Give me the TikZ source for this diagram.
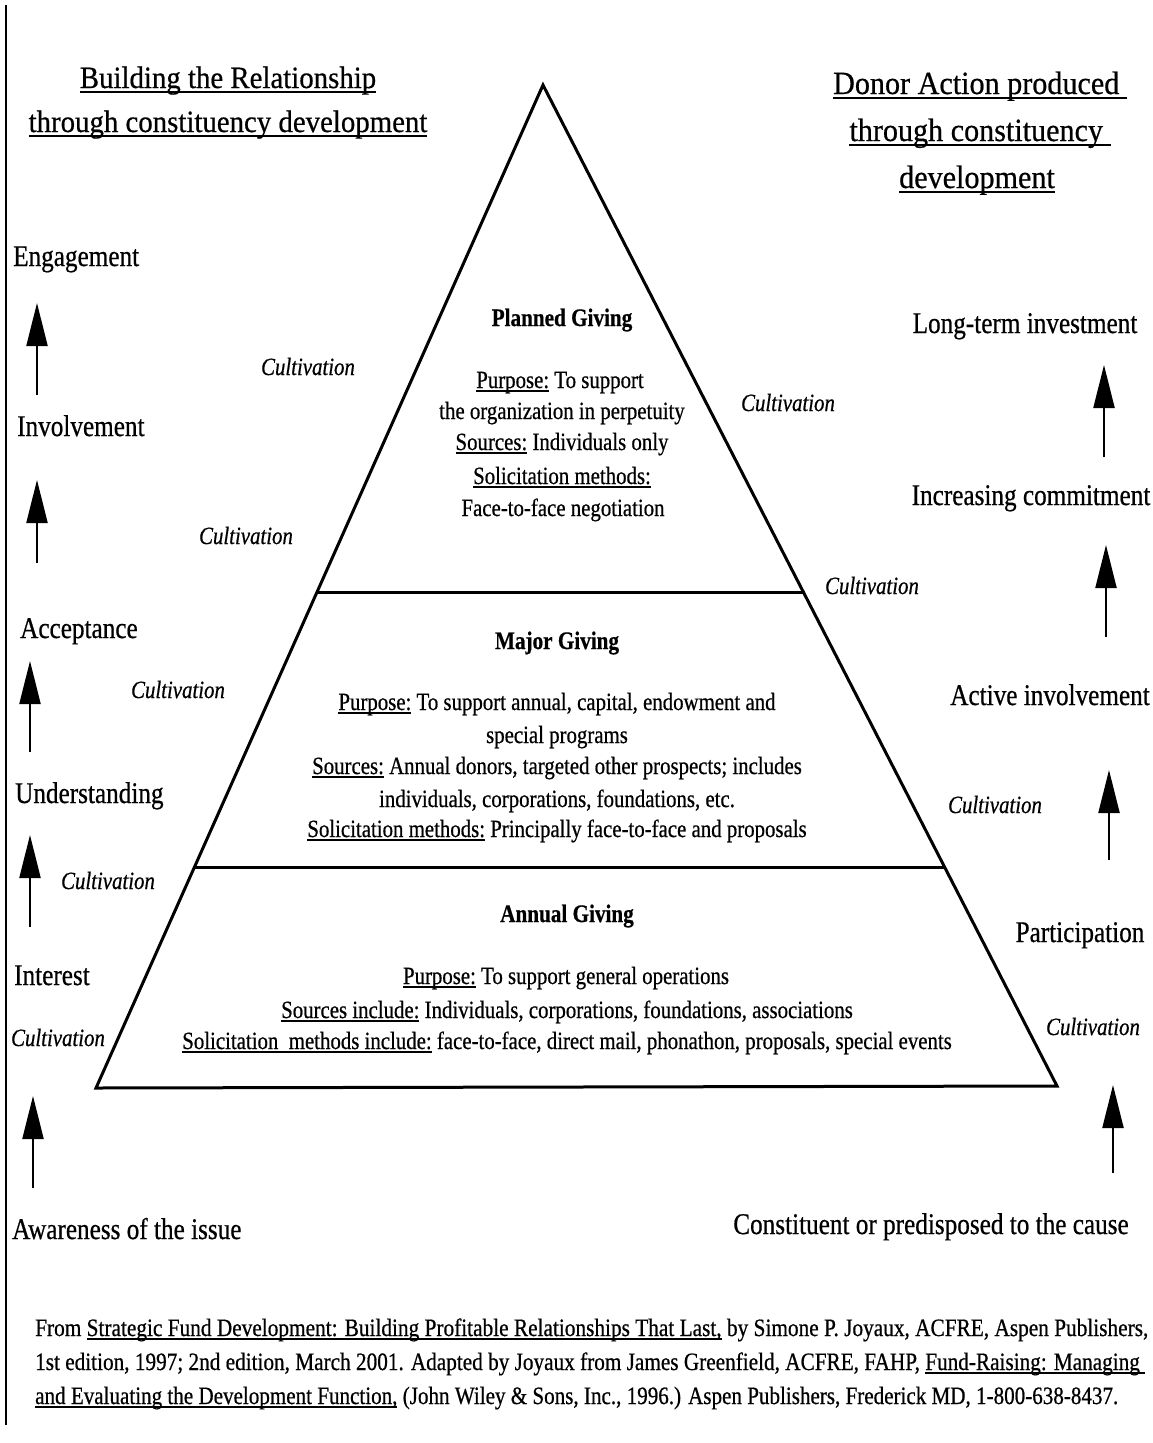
\documentclass[tikz,border=0pt]{standalone}
\usepackage{fontspec}
\usepackage{graphicx}
\setmainfont{Liberation Serif}[FakeStretch=0.84,FakeBold=0.6]
\newfontfamily\titlefont{Liberation Serif}[FakeStretch=0.93,FakeBold=0.6]
\usetikzlibrary{arrows.meta}
\newcommand\myul[1]{\setbox0=\hbox{#1}\rlap{\rule[-0.16em]{\wd0}{0.07em}}\box0\relax}
\tikzset{
  side/.style={font=\fontsize{30}{34}\selectfont, inner sep=0pt, anchor=base west},
  sidec/.style={font=\fontsize{30}{34}\selectfont, inner sep=0pt, anchor=base},
  cult/.style={font=\fontsize{24.8}{29}\selectfont\itshape, inner sep=0pt, anchor=base},
  body/.style={font=\fontsize{24.8}{29}\selectfont, inner sep=0pt, anchor=base},
  head/.style={font=\fontsize{25.2}{29}\selectfont\bfseries, inner sep=0pt, anchor=base},
  ltitle/.style={font=\titlefont\fontsize{31}{36}\selectfont, inner sep=0pt, anchor=base},
  rtitle/.style={font=\titlefont\fontsize{32.4}{38}\selectfont, inner sep=0pt, anchor=base},
  foot/.style={font=\fontsize{25}{29}\selectfont, inner sep=0pt, anchor=base west},
  pyr/.style={line width=3pt, line join=miter},
  uparrow/.style={line width=2.2pt, -{Triangle[length=43pt,width=21pt]}},
  border/.style={line width=2pt}
}
\begin{document}
\begin{tikzpicture}[x=1pt,y=-1pt]
\useasboundingbox (0,0) rectangle (1153,1443);
\fill[white] (0,0) rectangle (1153,1443);

% left border line
\coordinate (bt) at (6,5);
\coordinate (bb) at (6,1425);
\draw[border] (bt) -- (bb);

% pyramid
\coordinate (apex) at (543,85);
\coordinate (bl) at (96,1088);
\coordinate (br) at (1057,1086);
\coordinate (d1l) at (317,592);
\coordinate (d1r) at (805,592);
\coordinate (d2l) at (195,867);
\coordinate (d2r) at (946,867);
\draw[pyr] (apex) -- (bl) -- (br) -- cycle;
\draw[pyr] (d1l) -- (d1r);
\draw[pyr] (d2l) -- (d2r);

% titles
\node[ltitle] (lt1) at (228,88) {\myul{Building the Relationship}};
\node[ltitle] (lt2) at (228,132) {\myul{through constituency development}};
\node[rtitle] (rt1) at (980,94) {\myul{Donor Action produced\ }};
\node[rtitle] (rt2) at (980,141) {\myul{through constituency\ }};
\node[rtitle] (rt3) at (977,188) {\myul{development}};

% left side labels
\node[side] (engage) at (13,266) {Engagement};
\node[side] (involve) at (17,436) {Involvement};
\node[side] (accept) at (20,638) {Acceptance};
\node[side] (underst) at (15,803) {Understanding};
\node[side] (interest) at (14,985) {Interest};
\node[side] (aware) at (12,1239) {Awareness of the issue};

% left arrows
\coordinate (la1s) at (37,395); \coordinate (la1e) at (37,303);
\coordinate (la2s) at (37,563); \coordinate (la2e) at (37,480);
\coordinate (la3s) at (30,752); \coordinate (la3e) at (30,661);
\coordinate (la4s) at (30,927); \coordinate (la4e) at (30,835);
\coordinate (la5s) at (33,1188); \coordinate (la5e) at (33,1096);
\draw[uparrow] (la1s) -- (la1e);
\draw[uparrow] (la2s) -- (la2e);
\draw[uparrow] (la3s) -- (la3e);
\draw[uparrow] (la4s) -- (la4e);
\draw[uparrow] (la5s) -- (la5e);

% right side labels
\node[sidec] (longterm) at (1025,333) {Long-term investment};
\node[sidec] (increasing) at (1031,505) {Increasing commitment};
\node[sidec] (active) at (1050,705) {Active involvement};
\node[sidec] (particip) at (1080,942) {Participation};
\node[sidec] (constit) at (931,1234) {Constituent or predisposed to the cause};

% right arrows
\coordinate (ra1s) at (1104,457); \coordinate (ra1e) at (1104,365);
\coordinate (ra2s) at (1106,637); \coordinate (ra2e) at (1106,545);
\coordinate (ra3s) at (1109,860); \coordinate (ra3e) at (1109,770);
\coordinate (ra4s) at (1113,1173); \coordinate (ra4e) at (1113,1085);
\draw[uparrow] (ra1s) -- (ra1e);
\draw[uparrow] (ra2s) -- (ra2e);
\draw[uparrow] (ra3s) -- (ra3e);
\draw[uparrow] (ra4s) -- (ra4e);

% cultivation labels
\node[cult] (c1) at (308,375) {Cultivation};
\node[cult] (c2) at (788,411) {Cultivation};
\node[cult] (c3) at (246,544) {Cultivation};
\node[cult] (c4) at (872,594) {Cultivation};
\node[cult] (c5) at (178,698) {Cultivation};
\node[cult] (c6) at (995,813) {Cultivation};
\node[cult] (c7) at (108,889) {Cultivation};
\node[cult] (c8) at (58,1046) {Cultivation};
\node[cult] (c9) at (1093,1035) {Cultivation};

% planned giving
\node[head] (pg) at (562,326) {Planned Giving};
\node[body] (pg1) at (560,388) {\myul{Purpose:} To support};
\node[body] (pg2) at (562,419) {the organization in perpetuity};
\node[body] (pg3) at (562,450) {\myul{Sources:} Individuals only};
\node[body] (pg4) at (562,484) {\myul{Solicitation methods:}};
\node[body] (pg5) at (563,516) {Face-to-face negotiation};

% major giving
\node[head] (mg) at (557,649) {Major Giving};
\node[body] (mg1) at (557,710) {\myul{Purpose:} To support annual, capital, endowment and};
\node[body] (mg2) at (557,743) {special programs};
\node[body] (mg3) at (557,774) {\myul{Sources:} Annual donors, targeted other prospects; includes};
\node[body] (mg4) at (557,807) {individuals, corporations, foundations, etc.};
\node[body] (mg5) at (557,837) {\myul{Solicitation methods:} Principally face-to-face and proposals};

% annual giving
\node[head] (ag) at (567,922) {Annual Giving};
\node[body] (ag1) at (566,984) {\myul{Purpose:} To support general operations};
\node[body] (ag2) at (567,1018) {\myul{Sources include:} Individuals, corporations, foundations, associations};
\node[body] (ag3) at (567,1049) {\myul{Solicitation\ \ methods include:} face-to-face, direct mail, phonathon, proposals, special events};

% footer
\node[foot] (f1) at (35,1336) {\resizebox{1113pt}{\height}{From \myul{Strategic Fund Development: Building Profitable Relationships That Last,} by Simone P. Joyaux, ACFRE, Aspen Publishers,}};
\node[foot] (f2) at (35,1370) {\resizebox{1110pt}{\height}{1st edition, 1997; 2nd edition, March 2001. Adapted by Joyaux from James Greenfield, ACFRE, FAHP, \myul{Fund-Raising: Managing\ }}};
\node[foot] (f3) at (35,1404) {\resizebox{1083pt}{\height}{\myul{and Evaluating the Development Function,} (John Wiley \& Sons, Inc., 1996.) Aspen Publishers, Frederick MD, 1-800-638-8437.}};
\end{tikzpicture}
\end{document}
